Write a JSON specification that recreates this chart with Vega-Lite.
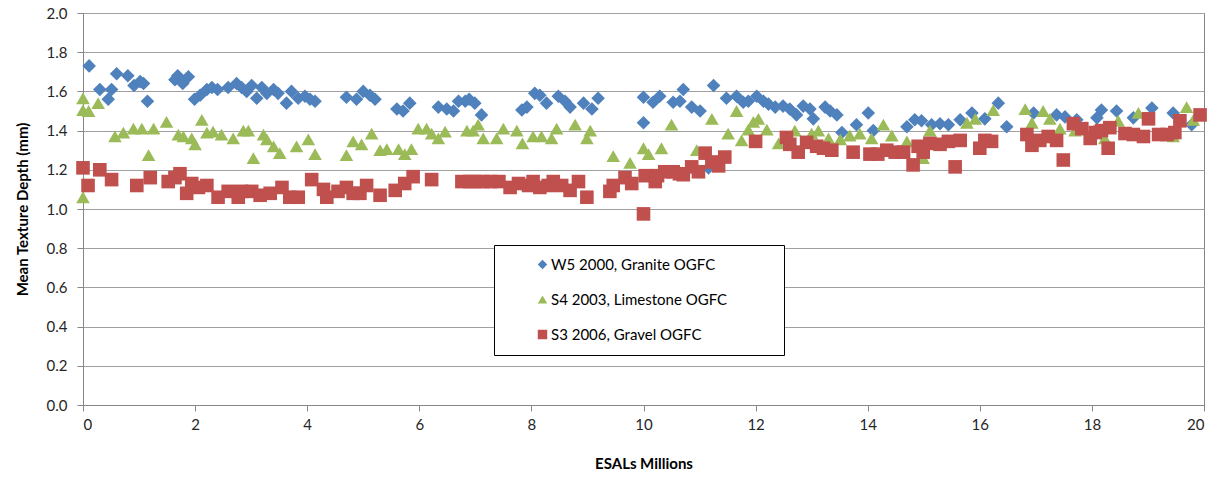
{
  "$schema": "https://vega.github.io/schema/vega-lite/v6.json",
  "width": 1121,
  "height": 392,
  "autosize": "none",
  "padding": {"left": 83, "top": 13, "right": 20, "bottom": 74},
  "background": "white",
  "config": {
    "font": "Lato",
    "view": {"stroke": "#868686", "strokeWidth": 1}
  },
  "datasets": {
    "pts": [
      {"series": "W5 2000, Granite OGFC", "esal": 0.11, "mtd": 1.73},
      {"series": "W5 2000, Granite OGFC", "esal": 0.30, "mtd": 1.61},
      {"series": "W5 2000, Granite OGFC", "esal": 0.45, "mtd": 1.56},
      {"series": "W5 2000, Granite OGFC", "esal": 0.51, "mtd": 1.61},
      {"series": "W5 2000, Granite OGFC", "esal": 0.60, "mtd": 1.69},
      {"series": "W5 2000, Granite OGFC", "esal": 0.80, "mtd": 1.68},
      {"series": "W5 2000, Granite OGFC", "esal": 0.91, "mtd": 1.63},
      {"series": "W5 2000, Granite OGFC", "esal": 1.02, "mtd": 1.65},
      {"series": "W5 2000, Granite OGFC", "esal": 1.08, "mtd": 1.64},
      {"series": "W5 2000, Granite OGFC", "esal": 1.15, "mtd": 1.55},
      {"series": "W5 2000, Granite OGFC", "esal": 1.64, "mtd": 1.66},
      {"series": "W5 2000, Granite OGFC", "esal": 1.69, "mtd": 1.68},
      {"series": "W5 2000, Granite OGFC", "esal": 1.78, "mtd": 1.64},
      {"series": "W5 2000, Granite OGFC", "esal": 1.88, "mtd": 1.675},
      {"series": "W5 2000, Granite OGFC", "esal": 1.99, "mtd": 1.56},
      {"series": "W5 2000, Granite OGFC", "esal": 2.09, "mtd": 1.58},
      {"series": "W5 2000, Granite OGFC", "esal": 2.21, "mtd": 1.61},
      {"series": "W5 2000, Granite OGFC", "esal": 2.30, "mtd": 1.62},
      {"series": "W5 2000, Granite OGFC", "esal": 2.40, "mtd": 1.61},
      {"series": "W5 2000, Granite OGFC", "esal": 2.59, "mtd": 1.62},
      {"series": "W5 2000, Granite OGFC", "esal": 2.74, "mtd": 1.64},
      {"series": "W5 2000, Granite OGFC", "esal": 2.83, "mtd": 1.62},
      {"series": "W5 2000, Granite OGFC", "esal": 2.92, "mtd": 1.60},
      {"series": "W5 2000, Granite OGFC", "esal": 3.01, "mtd": 1.63},
      {"series": "W5 2000, Granite OGFC", "esal": 3.10, "mtd": 1.565},
      {"series": "W5 2000, Granite OGFC", "esal": 3.19, "mtd": 1.62},
      {"series": "W5 2000, Granite OGFC", "esal": 3.28, "mtd": 1.59},
      {"series": "W5 2000, Granite OGFC", "esal": 3.40, "mtd": 1.61},
      {"series": "W5 2000, Granite OGFC", "esal": 3.48, "mtd": 1.59},
      {"series": "W5 2000, Granite OGFC", "esal": 3.63, "mtd": 1.54},
      {"series": "W5 2000, Granite OGFC", "esal": 3.72, "mtd": 1.60},
      {"series": "W5 2000, Granite OGFC", "esal": 3.84, "mtd": 1.565},
      {"series": "W5 2000, Granite OGFC", "esal": 3.96, "mtd": 1.575},
      {"series": "W5 2000, Granite OGFC", "esal": 4.05, "mtd": 1.56},
      {"series": "W5 2000, Granite OGFC", "esal": 4.14, "mtd": 1.55},
      {"series": "W5 2000, Granite OGFC", "esal": 4.70, "mtd": 1.57},
      {"series": "W5 2000, Granite OGFC", "esal": 4.88, "mtd": 1.56},
      {"series": "W5 2000, Granite OGFC", "esal": 5.00, "mtd": 1.60},
      {"series": "W5 2000, Granite OGFC", "esal": 5.12, "mtd": 1.58},
      {"series": "W5 2000, Granite OGFC", "esal": 5.21, "mtd": 1.56},
      {"series": "W5 2000, Granite OGFC", "esal": 5.60, "mtd": 1.51},
      {"series": "W5 2000, Granite OGFC", "esal": 5.71, "mtd": 1.50},
      {"series": "W5 2000, Granite OGFC", "esal": 5.83, "mtd": 1.54},
      {"series": "W5 2000, Granite OGFC", "esal": 6.34, "mtd": 1.52},
      {"series": "W5 2000, Granite OGFC", "esal": 6.49, "mtd": 1.51},
      {"series": "W5 2000, Granite OGFC", "esal": 6.61, "mtd": 1.50},
      {"series": "W5 2000, Granite OGFC", "esal": 6.70, "mtd": 1.55},
      {"series": "W5 2000, Granite OGFC", "esal": 6.82, "mtd": 1.55},
      {"series": "W5 2000, Granite OGFC", "esal": 6.89, "mtd": 1.56},
      {"series": "W5 2000, Granite OGFC", "esal": 6.99, "mtd": 1.54},
      {"series": "W5 2000, Granite OGFC", "esal": 7.11, "mtd": 1.48},
      {"series": "W5 2000, Granite OGFC", "esal": 7.83, "mtd": 1.505},
      {"series": "W5 2000, Granite OGFC", "esal": 7.92, "mtd": 1.52},
      {"series": "W5 2000, Granite OGFC", "esal": 8.06, "mtd": 1.59},
      {"series": "W5 2000, Granite OGFC", "esal": 8.15, "mtd": 1.58},
      {"series": "W5 2000, Granite OGFC", "esal": 8.27, "mtd": 1.54},
      {"series": "W5 2000, Granite OGFC", "esal": 8.48, "mtd": 1.575},
      {"series": "W5 2000, Granite OGFC", "esal": 8.60, "mtd": 1.55},
      {"series": "W5 2000, Granite OGFC", "esal": 8.69, "mtd": 1.52},
      {"series": "W5 2000, Granite OGFC", "esal": 8.93, "mtd": 1.54},
      {"series": "W5 2000, Granite OGFC", "esal": 9.08, "mtd": 1.51},
      {"series": "W5 2000, Granite OGFC", "esal": 9.19, "mtd": 1.565},
      {"series": "W5 2000, Granite OGFC", "esal": 10.0, "mtd": 1.57},
      {"series": "W5 2000, Granite OGFC", "esal": 10.0, "mtd": 1.44},
      {"series": "W5 2000, Granite OGFC", "esal": 10.17, "mtd": 1.545},
      {"series": "W5 2000, Granite OGFC", "esal": 10.29, "mtd": 1.575},
      {"series": "W5 2000, Granite OGFC", "esal": 10.53, "mtd": 1.545},
      {"series": "W5 2000, Granite OGFC", "esal": 10.65, "mtd": 1.55},
      {"series": "W5 2000, Granite OGFC", "esal": 10.71, "mtd": 1.61},
      {"series": "W5 2000, Granite OGFC", "esal": 10.86, "mtd": 1.52},
      {"series": "W5 2000, Granite OGFC", "esal": 11.01, "mtd": 1.50},
      {"series": "W5 2000, Granite OGFC", "esal": 11.16, "mtd": 1.21},
      {"series": "W5 2000, Granite OGFC", "esal": 11.25, "mtd": 1.63},
      {"series": "W5 2000, Granite OGFC", "esal": 11.48, "mtd": 1.565},
      {"series": "W5 2000, Granite OGFC", "esal": 11.66, "mtd": 1.575},
      {"series": "W5 2000, Granite OGFC", "esal": 11.78, "mtd": 1.545},
      {"series": "W5 2000, Granite OGFC", "esal": 11.87, "mtd": 1.55},
      {"series": "W5 2000, Granite OGFC", "esal": 12.02, "mtd": 1.575},
      {"series": "W5 2000, Granite OGFC", "esal": 12.14, "mtd": 1.55},
      {"series": "W5 2000, Granite OGFC", "esal": 12.23, "mtd": 1.535},
      {"series": "W5 2000, Granite OGFC", "esal": 12.35, "mtd": 1.52},
      {"series": "W5 2000, Granite OGFC", "esal": 12.49, "mtd": 1.525},
      {"series": "W5 2000, Granite OGFC", "esal": 12.61, "mtd": 1.51},
      {"series": "W5 2000, Granite OGFC", "esal": 12.73, "mtd": 1.48},
      {"series": "W5 2000, Granite OGFC", "esal": 12.85, "mtd": 1.525},
      {"series": "W5 2000, Granite OGFC", "esal": 12.97, "mtd": 1.51},
      {"series": "W5 2000, Granite OGFC", "esal": 13.03, "mtd": 1.46},
      {"series": "W5 2000, Granite OGFC", "esal": 13.24, "mtd": 1.52},
      {"series": "W5 2000, Granite OGFC", "esal": 13.33, "mtd": 1.50},
      {"series": "W5 2000, Granite OGFC", "esal": 13.45, "mtd": 1.48},
      {"series": "W5 2000, Granite OGFC", "esal": 13.54, "mtd": 1.39},
      {"series": "W5 2000, Granite OGFC", "esal": 13.80, "mtd": 1.43},
      {"series": "W5 2000, Granite OGFC", "esal": 14.01, "mtd": 1.49},
      {"series": "W5 2000, Granite OGFC", "esal": 14.10, "mtd": 1.40},
      {"series": "W5 2000, Granite OGFC", "esal": 14.70, "mtd": 1.42},
      {"series": "W5 2000, Granite OGFC", "esal": 14.84, "mtd": 1.455},
      {"series": "W5 2000, Granite OGFC", "esal": 14.96, "mtd": 1.45},
      {"series": "W5 2000, Granite OGFC", "esal": 15.14, "mtd": 1.43},
      {"series": "W5 2000, Granite OGFC", "esal": 15.29, "mtd": 1.435},
      {"series": "W5 2000, Granite OGFC", "esal": 15.44, "mtd": 1.43},
      {"series": "W5 2000, Granite OGFC", "esal": 15.65, "mtd": 1.455},
      {"series": "W5 2000, Granite OGFC", "esal": 15.86, "mtd": 1.49},
      {"series": "W5 2000, Granite OGFC", "esal": 16.09, "mtd": 1.46},
      {"series": "W5 2000, Granite OGFC", "esal": 16.33, "mtd": 1.54},
      {"series": "W5 2000, Granite OGFC", "esal": 16.48, "mtd": 1.42},
      {"series": "W5 2000, Granite OGFC", "esal": 16.96, "mtd": 1.49},
      {"series": "W5 2000, Granite OGFC", "esal": 17.37, "mtd": 1.48},
      {"series": "W5 2000, Granite OGFC", "esal": 17.52, "mtd": 1.47},
      {"series": "W5 2000, Granite OGFC", "esal": 17.73, "mtd": 1.455},
      {"series": "W5 2000, Granite OGFC", "esal": 18.09, "mtd": 1.465},
      {"series": "W5 2000, Granite OGFC", "esal": 18.17, "mtd": 1.505},
      {"series": "W5 2000, Granite OGFC", "esal": 18.44, "mtd": 1.50},
      {"series": "W5 2000, Granite OGFC", "esal": 18.74, "mtd": 1.465},
      {"series": "W5 2000, Granite OGFC", "esal": 19.07, "mtd": 1.515},
      {"series": "W5 2000, Granite OGFC", "esal": 19.45, "mtd": 1.49},
      {"series": "W5 2000, Granite OGFC", "esal": 19.78, "mtd": 1.43},
      {"series": "S4 2003, Limestone OGFC", "esal": 0.0, "mtd": 1.565},
      {"series": "S4 2003, Limestone OGFC", "esal": 0.0, "mtd": 1.505},
      {"series": "S4 2003, Limestone OGFC", "esal": 0.1, "mtd": 1.50},
      {"series": "S4 2003, Limestone OGFC", "esal": 0.27, "mtd": 1.54},
      {"series": "S4 2003, Limestone OGFC", "esal": 0.0, "mtd": 1.06},
      {"series": "S4 2003, Limestone OGFC", "esal": 0.57, "mtd": 1.37},
      {"series": "S4 2003, Limestone OGFC", "esal": 0.72, "mtd": 1.39},
      {"series": "S4 2003, Limestone OGFC", "esal": 0.90, "mtd": 1.41},
      {"series": "S4 2003, Limestone OGFC", "esal": 1.05, "mtd": 1.41},
      {"series": "S4 2003, Limestone OGFC", "esal": 1.17, "mtd": 1.275},
      {"series": "S4 2003, Limestone OGFC", "esal": 1.26, "mtd": 1.41},
      {"series": "S4 2003, Limestone OGFC", "esal": 1.49, "mtd": 1.445},
      {"series": "S4 2003, Limestone OGFC", "esal": 1.70, "mtd": 1.38},
      {"series": "S4 2003, Limestone OGFC", "esal": 1.79, "mtd": 1.37},
      {"series": "S4 2003, Limestone OGFC", "esal": 1.94, "mtd": 1.36},
      {"series": "S4 2003, Limestone OGFC", "esal": 2.0, "mtd": 1.33},
      {"series": "S4 2003, Limestone OGFC", "esal": 2.12, "mtd": 1.455},
      {"series": "S4 2003, Limestone OGFC", "esal": 2.21, "mtd": 1.39},
      {"series": "S4 2003, Limestone OGFC", "esal": 2.32, "mtd": 1.395},
      {"series": "S4 2003, Limestone OGFC", "esal": 2.47, "mtd": 1.38},
      {"series": "S4 2003, Limestone OGFC", "esal": 2.68, "mtd": 1.36},
      {"series": "S4 2003, Limestone OGFC", "esal": 2.86, "mtd": 1.40},
      {"series": "S4 2003, Limestone OGFC", "esal": 2.95, "mtd": 1.40},
      {"series": "S4 2003, Limestone OGFC", "esal": 3.04, "mtd": 1.26},
      {"series": "S4 2003, Limestone OGFC", "esal": 3.22, "mtd": 1.38},
      {"series": "S4 2003, Limestone OGFC", "esal": 3.28, "mtd": 1.355},
      {"series": "S4 2003, Limestone OGFC", "esal": 3.40, "mtd": 1.32},
      {"series": "S4 2003, Limestone OGFC", "esal": 3.51, "mtd": 1.285},
      {"series": "S4 2003, Limestone OGFC", "esal": 3.81, "mtd": 1.32},
      {"series": "S4 2003, Limestone OGFC", "esal": 4.02, "mtd": 1.355},
      {"series": "S4 2003, Limestone OGFC", "esal": 4.14, "mtd": 1.28},
      {"series": "S4 2003, Limestone OGFC", "esal": 4.70, "mtd": 1.275},
      {"series": "S4 2003, Limestone OGFC", "esal": 4.82, "mtd": 1.345},
      {"series": "S4 2003, Limestone OGFC", "esal": 4.97, "mtd": 1.33},
      {"series": "S4 2003, Limestone OGFC", "esal": 5.15, "mtd": 1.385},
      {"series": "S4 2003, Limestone OGFC", "esal": 5.30, "mtd": 1.30},
      {"series": "S4 2003, Limestone OGFC", "esal": 5.42, "mtd": 1.305},
      {"series": "S4 2003, Limestone OGFC", "esal": 5.63, "mtd": 1.305},
      {"series": "S4 2003, Limestone OGFC", "esal": 5.74, "mtd": 1.28},
      {"series": "S4 2003, Limestone OGFC", "esal": 5.86, "mtd": 1.305},
      {"series": "S4 2003, Limestone OGFC", "esal": 5.98, "mtd": 1.41},
      {"series": "S4 2003, Limestone OGFC", "esal": 6.13, "mtd": 1.41},
      {"series": "S4 2003, Limestone OGFC", "esal": 6.22, "mtd": 1.385},
      {"series": "S4 2003, Limestone OGFC", "esal": 6.34, "mtd": 1.36},
      {"series": "S4 2003, Limestone OGFC", "esal": 6.46, "mtd": 1.395},
      {"series": "S4 2003, Limestone OGFC", "esal": 6.85, "mtd": 1.40},
      {"series": "S4 2003, Limestone OGFC", "esal": 6.96, "mtd": 1.40},
      {"series": "S4 2003, Limestone OGFC", "esal": 7.05, "mtd": 1.43},
      {"series": "S4 2003, Limestone OGFC", "esal": 7.14, "mtd": 1.36},
      {"series": "S4 2003, Limestone OGFC", "esal": 7.38, "mtd": 1.36},
      {"series": "S4 2003, Limestone OGFC", "esal": 7.50, "mtd": 1.41},
      {"series": "S4 2003, Limestone OGFC", "esal": 7.74, "mtd": 1.40},
      {"series": "S4 2003, Limestone OGFC", "esal": 7.84, "mtd": 1.335},
      {"series": "S4 2003, Limestone OGFC", "esal": 8.03, "mtd": 1.37},
      {"series": "S4 2003, Limestone OGFC", "esal": 8.18, "mtd": 1.37},
      {"series": "S4 2003, Limestone OGFC", "esal": 8.36, "mtd": 1.36},
      {"series": "S4 2003, Limestone OGFC", "esal": 8.45, "mtd": 1.41},
      {"series": "S4 2003, Limestone OGFC", "esal": 8.78, "mtd": 1.43},
      {"series": "S4 2003, Limestone OGFC", "esal": 8.99, "mtd": 1.36},
      {"series": "S4 2003, Limestone OGFC", "esal": 9.05, "mtd": 1.40},
      {"series": "S4 2003, Limestone OGFC", "esal": 9.46, "mtd": 1.27},
      {"series": "S4 2003, Limestone OGFC", "esal": 9.76, "mtd": 1.235},
      {"series": "S4 2003, Limestone OGFC", "esal": 10.0, "mtd": 1.31},
      {"series": "S4 2003, Limestone OGFC", "esal": 10.09, "mtd": 1.28},
      {"series": "S4 2003, Limestone OGFC", "esal": 10.32, "mtd": 1.31},
      {"series": "S4 2003, Limestone OGFC", "esal": 10.50, "mtd": 1.43},
      {"series": "S4 2003, Limestone OGFC", "esal": 10.95, "mtd": 1.30},
      {"series": "S4 2003, Limestone OGFC", "esal": 11.22, "mtd": 1.46},
      {"series": "S4 2003, Limestone OGFC", "esal": 11.51, "mtd": 1.385},
      {"series": "S4 2003, Limestone OGFC", "esal": 11.66, "mtd": 1.50},
      {"series": "S4 2003, Limestone OGFC", "esal": 11.75, "mtd": 1.35},
      {"series": "S4 2003, Limestone OGFC", "esal": 11.87, "mtd": 1.405},
      {"series": "S4 2003, Limestone OGFC", "esal": 11.96, "mtd": 1.445},
      {"series": "S4 2003, Limestone OGFC", "esal": 12.05, "mtd": 1.46},
      {"series": "S4 2003, Limestone OGFC", "esal": 12.20, "mtd": 1.405},
      {"series": "S4 2003, Limestone OGFC", "esal": 12.41, "mtd": 1.335},
      {"series": "S4 2003, Limestone OGFC", "esal": 12.70, "mtd": 1.40},
      {"series": "S4 2003, Limestone OGFC", "esal": 13.0, "mtd": 1.385},
      {"series": "S4 2003, Limestone OGFC", "esal": 13.12, "mtd": 1.40},
      {"series": "S4 2003, Limestone OGFC", "esal": 13.3, "mtd": 1.36},
      {"series": "S4 2003, Limestone OGFC", "esal": 13.51, "mtd": 1.355},
      {"series": "S4 2003, Limestone OGFC", "esal": 13.68, "mtd": 1.375},
      {"series": "S4 2003, Limestone OGFC", "esal": 13.86, "mtd": 1.385},
      {"series": "S4 2003, Limestone OGFC", "esal": 14.07, "mtd": 1.36},
      {"series": "S4 2003, Limestone OGFC", "esal": 14.28, "mtd": 1.43},
      {"series": "S4 2003, Limestone OGFC", "esal": 14.43, "mtd": 1.375},
      {"series": "S4 2003, Limestone OGFC", "esal": 14.70, "mtd": 1.345},
      {"series": "S4 2003, Limestone OGFC", "esal": 14.99, "mtd": 1.26},
      {"series": "S4 2003, Limestone OGFC", "esal": 15.11, "mtd": 1.40},
      {"series": "S4 2003, Limestone OGFC", "esal": 15.77, "mtd": 1.44},
      {"series": "S4 2003, Limestone OGFC", "esal": 15.92, "mtd": 1.46},
      {"series": "S4 2003, Limestone OGFC", "esal": 16.24, "mtd": 1.505},
      {"series": "S4 2003, Limestone OGFC", "esal": 16.81, "mtd": 1.51},
      {"series": "S4 2003, Limestone OGFC", "esal": 16.93, "mtd": 1.44},
      {"series": "S4 2003, Limestone OGFC", "esal": 17.13, "mtd": 1.50},
      {"series": "S4 2003, Limestone OGFC", "esal": 17.25, "mtd": 1.46},
      {"series": "S4 2003, Limestone OGFC", "esal": 17.43, "mtd": 1.41},
      {"series": "S4 2003, Limestone OGFC", "esal": 17.7, "mtd": 1.40},
      {"series": "S4 2003, Limestone OGFC", "esal": 18.03, "mtd": 1.40},
      {"series": "S4 2003, Limestone OGFC", "esal": 18.23, "mtd": 1.36},
      {"series": "S4 2003, Limestone OGFC", "esal": 18.47, "mtd": 1.45},
      {"series": "S4 2003, Limestone OGFC", "esal": 18.83, "mtd": 1.49},
      {"series": "S4 2003, Limestone OGFC", "esal": 19.45, "mtd": 1.37},
      {"series": "S4 2003, Limestone OGFC", "esal": 19.69, "mtd": 1.52},
      {"series": "S4 2003, Limestone OGFC", "esal": 19.81, "mtd": 1.455},
      {"series": "S3 2006, Gravel OGFC", "esal": 0.0, "mtd": 1.21},
      {"series": "S3 2006, Gravel OGFC", "esal": 0.09, "mtd": 1.12},
      {"series": "S3 2006, Gravel OGFC", "esal": 0.30, "mtd": 1.20},
      {"series": "S3 2006, Gravel OGFC", "esal": 0.51, "mtd": 1.15},
      {"series": "S3 2006, Gravel OGFC", "esal": 0.96, "mtd": 1.12},
      {"series": "S3 2006, Gravel OGFC", "esal": 1.20, "mtd": 1.16},
      {"series": "S3 2006, Gravel OGFC", "esal": 1.52, "mtd": 1.14},
      {"series": "S3 2006, Gravel OGFC", "esal": 1.64, "mtd": 1.16},
      {"series": "S3 2006, Gravel OGFC", "esal": 1.73, "mtd": 1.18},
      {"series": "S3 2006, Gravel OGFC", "esal": 1.85, "mtd": 1.08},
      {"series": "S3 2006, Gravel OGFC", "esal": 1.94, "mtd": 1.13},
      {"series": "S3 2006, Gravel OGFC", "esal": 2.06, "mtd": 1.11},
      {"series": "S3 2006, Gravel OGFC", "esal": 2.21, "mtd": 1.12},
      {"series": "S3 2006, Gravel OGFC", "esal": 2.41, "mtd": 1.06},
      {"series": "S3 2006, Gravel OGFC", "esal": 2.59, "mtd": 1.09},
      {"series": "S3 2006, Gravel OGFC", "esal": 2.77, "mtd": 1.06},
      {"series": "S3 2006, Gravel OGFC", "esal": 2.83, "mtd": 1.09},
      {"series": "S3 2006, Gravel OGFC", "esal": 3.01, "mtd": 1.09},
      {"series": "S3 2006, Gravel OGFC", "esal": 3.16, "mtd": 1.07},
      {"series": "S3 2006, Gravel OGFC", "esal": 3.34, "mtd": 1.08},
      {"series": "S3 2006, Gravel OGFC", "esal": 3.55, "mtd": 1.11},
      {"series": "S3 2006, Gravel OGFC", "esal": 3.69, "mtd": 1.06},
      {"series": "S3 2006, Gravel OGFC", "esal": 3.84, "mtd": 1.06},
      {"series": "S3 2006, Gravel OGFC", "esal": 4.08, "mtd": 1.15},
      {"series": "S3 2006, Gravel OGFC", "esal": 4.29, "mtd": 1.10},
      {"series": "S3 2006, Gravel OGFC", "esal": 4.35, "mtd": 1.06},
      {"series": "S3 2006, Gravel OGFC", "esal": 4.55, "mtd": 1.09},
      {"series": "S3 2006, Gravel OGFC", "esal": 4.70, "mtd": 1.11},
      {"series": "S3 2006, Gravel OGFC", "esal": 4.82, "mtd": 1.08},
      {"series": "S3 2006, Gravel OGFC", "esal": 4.94, "mtd": 1.08},
      {"series": "S3 2006, Gravel OGFC", "esal": 5.06, "mtd": 1.12},
      {"series": "S3 2006, Gravel OGFC", "esal": 5.30, "mtd": 1.07},
      {"series": "S3 2006, Gravel OGFC", "esal": 5.57, "mtd": 1.095},
      {"series": "S3 2006, Gravel OGFC", "esal": 5.74, "mtd": 1.13},
      {"series": "S3 2006, Gravel OGFC", "esal": 5.89, "mtd": 1.165},
      {"series": "S3 2006, Gravel OGFC", "esal": 6.22, "mtd": 1.15},
      {"series": "S3 2006, Gravel OGFC", "esal": 6.76, "mtd": 1.14},
      {"series": "S3 2006, Gravel OGFC", "esal": 6.90, "mtd": 1.14},
      {"series": "S3 2006, Gravel OGFC", "esal": 7.00, "mtd": 1.14},
      {"series": "S3 2006, Gravel OGFC", "esal": 7.14, "mtd": 1.14},
      {"series": "S3 2006, Gravel OGFC", "esal": 7.27, "mtd": 1.14},
      {"series": "S3 2006, Gravel OGFC", "esal": 7.42, "mtd": 1.14},
      {"series": "S3 2006, Gravel OGFC", "esal": 7.62, "mtd": 1.11},
      {"series": "S3 2006, Gravel OGFC", "esal": 7.77, "mtd": 1.13},
      {"series": "S3 2006, Gravel OGFC", "esal": 7.95, "mtd": 1.12},
      {"series": "S3 2006, Gravel OGFC", "esal": 8.03, "mtd": 1.14},
      {"series": "S3 2006, Gravel OGFC", "esal": 8.15, "mtd": 1.11},
      {"series": "S3 2006, Gravel OGFC", "esal": 8.30, "mtd": 1.12},
      {"series": "S3 2006, Gravel OGFC", "esal": 8.39, "mtd": 1.14},
      {"series": "S3 2006, Gravel OGFC", "esal": 8.54, "mtd": 1.12},
      {"series": "S3 2006, Gravel OGFC", "esal": 8.69, "mtd": 1.095},
      {"series": "S3 2006, Gravel OGFC", "esal": 8.84, "mtd": 1.14},
      {"series": "S3 2006, Gravel OGFC", "esal": 8.99, "mtd": 1.06},
      {"series": "S3 2006, Gravel OGFC", "esal": 9.40, "mtd": 1.09},
      {"series": "S3 2006, Gravel OGFC", "esal": 9.46, "mtd": 1.12},
      {"series": "S3 2006, Gravel OGFC", "esal": 9.67, "mtd": 1.16},
      {"series": "S3 2006, Gravel OGFC", "esal": 9.79, "mtd": 1.13},
      {"series": "S3 2006, Gravel OGFC", "esal": 10.0, "mtd": 0.975},
      {"series": "S3 2006, Gravel OGFC", "esal": 10.03, "mtd": 1.17},
      {"series": "S3 2006, Gravel OGFC", "esal": 10.21, "mtd": 1.14},
      {"series": "S3 2006, Gravel OGFC", "esal": 10.25, "mtd": 1.17},
      {"series": "S3 2006, Gravel OGFC", "esal": 10.38, "mtd": 1.19},
      {"series": "S3 2006, Gravel OGFC", "esal": 10.53, "mtd": 1.19},
      {"series": "S3 2006, Gravel OGFC", "esal": 10.64, "mtd": 1.18},
      {"series": "S3 2006, Gravel OGFC", "esal": 10.71, "mtd": 1.175},
      {"series": "S3 2006, Gravel OGFC", "esal": 10.86, "mtd": 1.215},
      {"series": "S3 2006, Gravel OGFC", "esal": 10.98, "mtd": 1.19},
      {"series": "S3 2006, Gravel OGFC", "esal": 11.10, "mtd": 1.285},
      {"series": "S3 2006, Gravel OGFC", "esal": 11.22, "mtd": 1.24},
      {"series": "S3 2006, Gravel OGFC", "esal": 11.34, "mtd": 1.22},
      {"series": "S3 2006, Gravel OGFC", "esal": 11.45, "mtd": 1.265},
      {"series": "S3 2006, Gravel OGFC", "esal": 12.0, "mtd": 1.345},
      {"series": "S3 2006, Gravel OGFC", "esal": 12.55, "mtd": 1.365},
      {"series": "S3 2006, Gravel OGFC", "esal": 12.61, "mtd": 1.33},
      {"series": "S3 2006, Gravel OGFC", "esal": 12.76, "mtd": 1.29},
      {"series": "S3 2006, Gravel OGFC", "esal": 12.91, "mtd": 1.34},
      {"series": "S3 2006, Gravel OGFC", "esal": 13.09, "mtd": 1.32},
      {"series": "S3 2006, Gravel OGFC", "esal": 13.21, "mtd": 1.31},
      {"series": "S3 2006, Gravel OGFC", "esal": 13.36, "mtd": 1.30},
      {"series": "S3 2006, Gravel OGFC", "esal": 13.74, "mtd": 1.29},
      {"series": "S3 2006, Gravel OGFC", "esal": 14.04, "mtd": 1.28},
      {"series": "S3 2006, Gravel OGFC", "esal": 14.18, "mtd": 1.28},
      {"series": "S3 2006, Gravel OGFC", "esal": 14.34, "mtd": 1.30},
      {"series": "S3 2006, Gravel OGFC", "esal": 14.49, "mtd": 1.29},
      {"series": "S3 2006, Gravel OGFC", "esal": 14.64, "mtd": 1.29},
      {"series": "S3 2006, Gravel OGFC", "esal": 14.81, "mtd": 1.225},
      {"series": "S3 2006, Gravel OGFC", "esal": 14.90, "mtd": 1.32},
      {"series": "S3 2006, Gravel OGFC", "esal": 14.99, "mtd": 1.29},
      {"series": "S3 2006, Gravel OGFC", "esal": 15.11, "mtd": 1.335},
      {"series": "S3 2006, Gravel OGFC", "esal": 15.29, "mtd": 1.33},
      {"series": "S3 2006, Gravel OGFC", "esal": 15.44, "mtd": 1.345},
      {"series": "S3 2006, Gravel OGFC", "esal": 15.56, "mtd": 1.215},
      {"series": "S3 2006, Gravel OGFC", "esal": 15.65, "mtd": 1.35},
      {"series": "S3 2006, Gravel OGFC", "esal": 16.0, "mtd": 1.31},
      {"series": "S3 2006, Gravel OGFC", "esal": 16.09, "mtd": 1.35},
      {"series": "S3 2006, Gravel OGFC", "esal": 16.21, "mtd": 1.345},
      {"series": "S3 2006, Gravel OGFC", "esal": 16.84, "mtd": 1.38},
      {"series": "S3 2006, Gravel OGFC", "esal": 16.93, "mtd": 1.325},
      {"series": "S3 2006, Gravel OGFC", "esal": 17.07, "mtd": 1.35},
      {"series": "S3 2006, Gravel OGFC", "esal": 17.22, "mtd": 1.37},
      {"series": "S3 2006, Gravel OGFC", "esal": 17.37, "mtd": 1.35},
      {"series": "S3 2006, Gravel OGFC", "esal": 17.49, "mtd": 1.25},
      {"series": "S3 2006, Gravel OGFC", "esal": 17.67, "mtd": 1.435},
      {"series": "S3 2006, Gravel OGFC", "esal": 17.82, "mtd": 1.41},
      {"series": "S3 2006, Gravel OGFC", "esal": 17.97, "mtd": 1.36},
      {"series": "S3 2006, Gravel OGFC", "esal": 18.06, "mtd": 1.39},
      {"series": "S3 2006, Gravel OGFC", "esal": 18.17, "mtd": 1.40},
      {"series": "S3 2006, Gravel OGFC", "esal": 18.29, "mtd": 1.31},
      {"series": "S3 2006, Gravel OGFC", "esal": 18.32, "mtd": 1.415},
      {"series": "S3 2006, Gravel OGFC", "esal": 18.59, "mtd": 1.385},
      {"series": "S3 2006, Gravel OGFC", "esal": 18.74, "mtd": 1.38},
      {"series": "S3 2006, Gravel OGFC", "esal": 18.92, "mtd": 1.37},
      {"series": "S3 2006, Gravel OGFC", "esal": 19.01, "mtd": 1.46},
      {"series": "S3 2006, Gravel OGFC", "esal": 19.19, "mtd": 1.38},
      {"series": "S3 2006, Gravel OGFC", "esal": 19.34, "mtd": 1.38},
      {"series": "S3 2006, Gravel OGFC", "esal": 19.48, "mtd": 1.39},
      {"series": "S3 2006, Gravel OGFC", "esal": 19.57, "mtd": 1.45},
      {"series": "S3 2006, Gravel OGFC", "esal": 19.93, "mtd": 1.48}
    ]
  },
  "data": {"name": "pts"},
  "mark": {"type": "point", "filled": true, "opacity": 1, "size": 185, "strokeWidth": 0},
  "encoding": {
    "x": {
      "field": "esal",
      "type": "quantitative",
      "scale": {"domain": [0, 20], "nice": false, "zero": false, "padding": 0},
      "axis": {
        "title": "ESALs Millions",
        "values": [0, 2, 4, 6, 8, 10, 12, 14, 16, 18, 20],
        "grid": false,
        "domainColor": "#868686",
        "tickColor": "#868686",
        "tickSize": 6,
        "labelPadding": 6,
        "labelFontSize": 15,
        "labelColor": "#262626",
        "labelFont": "Lato",
        "titleFont": "Lato",
        "titleFontSize": 15,
        "titleFontWeight": "bold",
        "titleColor": "#000000",
        "titlePadding": 24
      }
    },
    "y": {
      "field": "mtd",
      "type": "quantitative",
      "scale": {"domain": [0, 2], "nice": false, "padding": 0},
      "axis": {
        "title": "Mean Texture Depth (mm)",
        "values": [0, 0.2, 0.4, 0.6, 0.8, 1.0, 1.2, 1.4, 1.6, 1.8, 2.0],
        "format": ".1f",
        "grid": true,
        "gridColor": "#a0a0a0",
        "domainColor": "#868686",
        "tickColor": "#868686",
        "tickSize": 6,
        "labelPadding": 10,
        "labelFontSize": 15,
        "labelColor": "#262626",
        "labelFont": "Lato",
        "titleFont": "Lato",
        "titleFontSize": 15,
        "titleFontWeight": "bold",
        "titleColor": "#000000",
        "titlePadding": 16
      }
    },
    "color": {
      "field": "series",
      "type": "nominal",
      "sort": null,
      "scale": {
        "domain": ["W5 2000, Granite OGFC", "S4 2003, Limestone OGFC", "S3 2006, Gravel OGFC"],
        "range": ["#4F81BD", "#9BBB59", "#C0504D"]
      },
      "legend": {
        "orient": "none",
        "legendX": 411,
        "legendY": 232,
        "title": null,
        "strokeColor": "#000000",
        "fillColor": "#ffffff",
        "padding": 12,
        "symbolOffset": 29,
        "symbolSize": 90,
        "labelFontSize": 15,
        "labelFont": "Lato",
        "labelColor": "#000000",
        "labelOffset": 1,
        "rowPadding": 19,
        "labelLimit": 400,
        "labelExpr": "datum.label + '\u2800\u2800\u2800\u2800'"
      }
    },
    "shape": {
      "field": "series",
      "type": "nominal",
      "sort": null,
      "scale": {
        "domain": ["W5 2000, Granite OGFC", "S4 2003, Limestone OGFC", "S3 2006, Gravel OGFC"],
        "range": ["diamond", "triangle-up", "square"]
      },
      "legend": {
        "orient": "none",
        "legendX": 411,
        "legendY": 232,
        "title": null,
        "strokeColor": "#000000",
        "fillColor": "#ffffff",
        "padding": 12,
        "symbolOffset": 29,
        "symbolSize": 90,
        "labelFontSize": 15,
        "labelFont": "Lato",
        "labelColor": "#000000",
        "labelOffset": 1,
        "rowPadding": 19,
        "labelLimit": 400,
        "labelExpr": "datum.label + '\u2800\u2800\u2800\u2800'"
      }
    }
  }
}
